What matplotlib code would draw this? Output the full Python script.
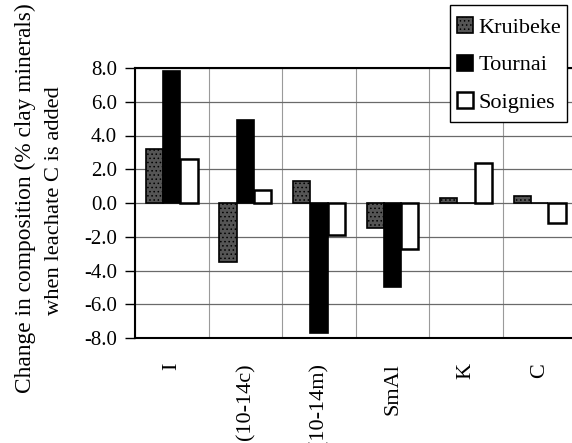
import matplotlib
matplotlib.use("Agg")
import matplotlib.pyplot as plt
from matplotlib.patches import Rectangle
import numpy as np

categories = ["I", "(10-14c)", "(10-14m)", "SmAl", "K", "C"]
series_names = ["Kruibeke", "Tournai", "Soignies"]
kruibeke = [3.2, -3.5, 1.3, -1.5, 0.3, 0.4]
tournai = [7.8, 4.9, -7.7, -5.0, 0.0, 0.0]
soignies = [2.6, 0.8, -1.9, -2.7, 2.4, -1.2]
yticks = [-8.0, -6.0, -4.0, -2.0, 0.0, 2.0, 4.0, 6.0, 8.0]

plt.rcParams['font.family'] = ['Liberation Serif', 'DejaVu Serif']
plt.rcParams['hatch.linewidth'] = 0.6

W, H = 572, 443
fig = plt.figure(figsize=(W / 100, H / 100), dpi=100)
ax = fig.add_axes([135 / W, 1 - 338 / H, (576.5 - 135) / W, (338 - 68) / H])

x = np.arange(len(categories))
bw = 0.235
b1 = ax.bar(x - bw, kruibeke, bw, facecolor='#555555', edgecolor='black',
            linewidth=1.2, hatch='....', zorder=3, label=series_names[0])
b2 = ax.bar(x, tournai, bw, facecolor='black', edgecolor='black',
            linewidth=1.2, zorder=3, label=series_names[1])
b3 = ax.bar(x + bw, soignies, bw, facecolor='white', edgecolor='black',
            linewidth=1.8, zorder=3, label=series_names[2])

ax.set_xlim(-0.5, len(categories) - 0.5)
ax.set_ylim(-8, 8)
ax.set_yticks(yticks)
ax.set_yticklabels([f"{v:.1f}" for v in yticks], fontsize=15)
ax.set_xticks(x)
ax.set_xticklabels(categories, rotation=90, fontsize=16, va='top')
ax.tick_params(axis='x', length=0, pad=18)
ax.tick_params(axis='y', length=7, width=1.0, direction='out', pad=6)

# category boundary grid lines
ax.set_xticks(np.arange(-0.5, len(categories) + 0.5, 1), minor=True)
ax.tick_params(axis='x', which='minor', length=0)
ax.grid(axis='x', which='minor', color='#9a9a9a', linewidth=0.8, zorder=0)
ax.grid(axis='y', which='major', color='#6a6a6a', linewidth=0.9, zorder=0)
ax.set_axisbelow(True)

for s in ax.spines.values():
    s.set_linewidth(1.5)
    s.set_color('black')

fig.text(25 / W, 1 - 198 / H, "Change in composition (% clay minerals)",
         rotation=90, ha='center', va='center', fontsize=16.8)
fig.text(55 / W, 1 - 201 / H, "when leachate C is added",
         rotation=90, ha='center', va='center', fontsize=16.2)

# legend frame
fig.patches.append(Rectangle((450 / W, 1 - 122 / H), 117 / W, 117 / H,
                             transform=fig.transFigure, facecolor='white',
                             edgecolor='black', linewidth=1.0, zorder=4))
leg = fig.legend(handles=[b1, b2, b3], labels=series_names,
                 loc='center left', bbox_to_anchor=(450 / W, 1 - 65 / H),
                 borderaxespad=0, fontsize=16, frameon=False,
                 handlelength=0.72, handleheight=0.72, handletextpad=0.25,
                 labelspacing=0.75, borderpad=0.3)
leg.set_zorder(5)

fig.savefig("out.png", dpi=100)
